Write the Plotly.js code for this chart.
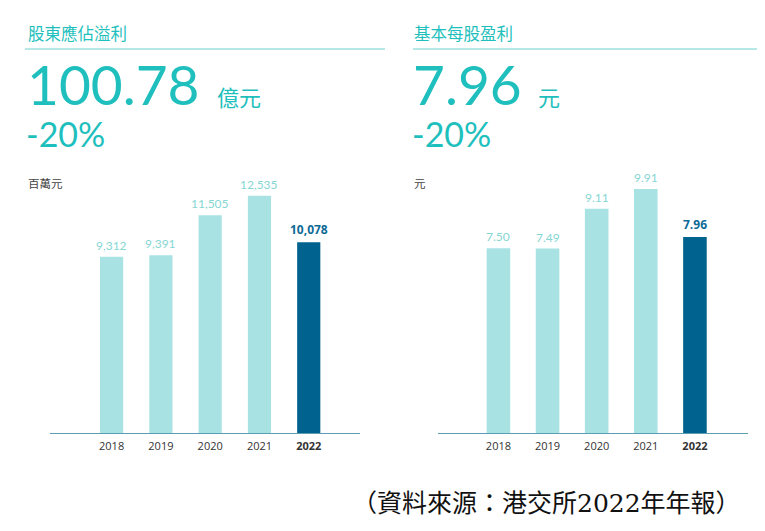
<!DOCTYPE html>
<html>
<head>
<meta charset="utf-8">
<script src="https://cdn.plot.ly/plotly-3.0.1.min.js"></script>
<style>
  html, body { margin: 0; padding: 0; background: #fff; }
  #chart { width: 765px; height: 531px; }
</style>
</head>
<body>
<div id="chart"></div>
<script>
const years = ['2018', '2019', '2020', '2021', '2022'];
const profit = [9312, 9391, 11505, 12535, 10078];   // 百萬元
const eps = [7.50, 7.49, 9.11, 9.91, 7.96];          // 元
const highlightYear = '2022';

const W = 765, H = 531;
const px = x => x / W;
const py = y => 1 - y / H;

const LIGHT = '#a8e2e3';
const DARK = '#00628e';
const TEAL = '#1fbfbd';
const CJK = '"Noto Sans CJK TC", "Noto Sans CJK SC", sans-serif';
const NUM = 'Lato, "Open Sans", sans-serif';

function barColors() {
  return years.map(y => y === highlightYear ? DARK : LIGHT);
}

function valueLabels(values, fmt, xref, yref) {
  return values.map((v, i) => {
    const hi = years[i] === highlightYear;
    return {
      x: i, y: v, xref: xref, yref: yref,
      text: hi ? '<b>' + fmt(v) + '</b>' : fmt(v),
      showarrow: false, yanchor: 'bottom', yshift: 2,
      font: { family: hi ? '"Open Sans", sans-serif' : NUM, size: 12, color: hi ? '#0e6a96' : '#86d6d3' }
    };
  });
}

const tickText = years.map(y => y === highlightYear ? '<b>' + y + '</b>' : y);

const traceProfit = {
  type: 'bar', x: years.map((_, i) => i), y: profit,
  width: 0.47, marker: { color: barColors() },
  xaxis: 'x', yaxis: 'y', hoverinfo: 'skip'
};
const traceEps = {
  type: 'bar', x: years.map((_, i) => i), y: eps,
  width: 0.48, marker: { color: barColors() },
  xaxis: 'x2', yaxis: 'y2', hoverinfo: 'skip'
};

function xAxis(domain, range) {
  return {
    domain: domain, range: range, fixedrange: true,
    tickvals: years.map((_, i) => i), ticktext: tickText,
    showgrid: false, zeroline: false,
    showline: true, linecolor: '#5b9db3', linewidth: 1,
    ticks: '', ticklabelstandoff: 3,
    tickfont: { family: '"Open Sans", sans-serif', size: 11, color: '#333' }
  };
}
function yAxis(domain, range, anchor) {
  return {
    domain: domain, range: range, anchor: anchor, fixedrange: true,
    showgrid: false, zeroline: false, showticklabels: false, showline: false
  };
}

function text(x, y, t, size, color, family, anchor) {
  return {
    xref: 'paper', yref: 'paper', x: px(x), y: py(y), text: t,
    showarrow: false, xanchor: anchor || 'left', yanchor: 'middle',
    font: { size: size, color: color, family: family }
  };
}

const annotations = [
  text(26, 33, '股東應佔溢利', 16.5, TEAL, CJK),
  text(25, 84, '100.78', 55, TEAL, NUM),
  text(215, 96, '億元', 22, TEAL, CJK),
  text(24, 134, '-20%', 34, TEAL, NUM),
  text(26, 183, '百萬元', 11.5, '#444', CJK),

  text(412, 33, '基本每股盈利', 16.5, TEAL, CJK),
  text(411, 84, '7.96', 55, TEAL, NUM),
  text(536, 96, '元', 22, TEAL, CJK),
  text(410, 134, '-20%', 34, TEAL, NUM),
  text(412, 183, '元', 11.5, '#444', CJK),

  text(546, 503, '（資料來源：港交所2022年年報）', 25, '#111', '"DejaVu Serif", "Noto Sans CJK TC", serif', 'center')
].concat(
  valueLabels(profit, v => v.toLocaleString('en-US'), 'x', 'y'),
  valueLabels(eps, v => v.toFixed(2), 'x2', 'y2')
);

const shapes = [
  { type: 'line', xref: 'paper', yref: 'paper', x0: px(25), x1: px(385), y0: py(49), y1: py(49), line: { color: '#6fd0d0', width: 1 } },
  { type: 'line', xref: 'paper', yref: 'paper', x0: px(413), x1: px(757), y0: py(49), y1: py(49), line: { color: '#6fd0d0', width: 1 } }
];

const plotTop = 175, plotBottom = 433;
const yDomain = [py(plotBottom), py(plotTop)];

const layout = {
  width: W, height: H,
  margin: { l: 0, r: 0, t: 0, b: 0 },
  paper_bgcolor: '#fff', plot_bgcolor: 'rgba(0,0,0,0)',
  showlegend: false, barmode: 'overlay',
  xaxis: xAxis([px(50), px(360)], [-1.25, 5.04]),
  yaxis: yAxis(yDomain, [0, 13630], 'x'),
  xaxis2: Object.assign(xAxis([px(438), px(748)], [-1.23, 5.08]), { anchor: 'y2' }),
  yaxis2: yAxis(yDomain, [0, 10.48], 'x2'),
  annotations: annotations,
  shapes: shapes
};

Plotly.newPlot('chart', [traceProfit, traceEps], layout, { displayModeBar: false, staticPlot: true });
</script>
</body>
</html>
